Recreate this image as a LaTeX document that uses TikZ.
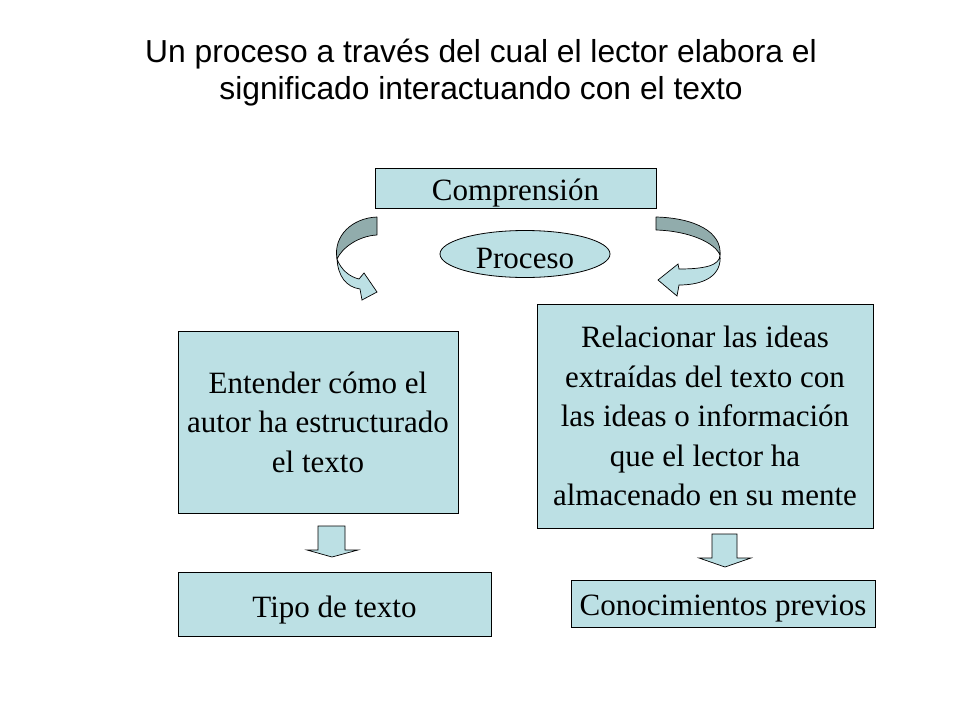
\documentclass[tikz,border=0pt]{standalone}
\usepackage{fontspec}
\setmainfont{Liberation Serif}
\newfontfamily\titlefont{Liberation Sans}
\usetikzlibrary{shapes.geometric}
\definecolor{boxblue}{RGB}{188,224,228}
\definecolor{ribbondark}{RGB}{145,172,172}
\tikzset{
  box/.style={draw=black, line width=0.8pt, fill=boxblue, inner sep=0pt, align=center,
    font=\fontsize{31}{39.5}\selectfont},
  blockarrow/.style={draw=black, line width=0.7pt, fill=boxblue, line join=miter},
  ribbonback/.style={draw=black, line width=0.7pt, fill=ribbondark, line join=round},
  ribbonfront/.style={draw=black, line width=0.7pt, fill=boxblue, line join=miter},
}
\begin{document}
\begin{tikzpicture}[x=1pt,y=-1pt]
\useasboundingbox (0,0) rectangle (960,720);
% title
\node[font=\titlefont\fontsize{31.8}{37}\selectfont, align=center, anchor=base] (title) at (481,99)
  {Un proceso a través del cual el lector elabora el\\significado interactuando con el texto};
% boxes
\node[box, minimum width=281pt, minimum height=40pt, text height=24pt, text depth=0pt] (comp) at (515.5,188) {Comprensión};
\node[box, ellipse, minimum width=170pt, minimum height=47pt, text height=28pt, text depth=0pt] (proc) at (525,254) {Proceso};
\node[box, minimum width=280pt, minimum height=182pt] (ent) at (318,422)
  {Entender cómo el\\autor ha estructurado\\el texto};
\node[box, minimum width=336pt, minimum height=224pt] (rel) at (705,416)
  {Relacionar las ideas\\extraídas del texto con\\las ideas o información\\que el lector ha\\almacenado en su mente};
\node[box, minimum width=313pt, minimum height=64pt, text height=26pt, text depth=0pt] (tipo) at (334.5,604) {Tipo de texto};
\node[box, minimum width=304pt, minimum height=47pt, text height=23pt, text depth=0pt] (cono) at (723,603.5) {Conocimientos previos};
% left curved ribbon arrow
\draw[ribbonback] (377,217) .. controls (352,218) and (333,236) .. (337,259)
  .. controls (342,248) and (358,236) .. (377,235) -- cycle;
\draw[ribbonfront] (337,259) .. controls (338,276) and (346,287) .. (360,289)
  -- (362,300) -- (377,292) -- (364,273) -- (359,279)
  .. controls (350,277) and (341,270) .. (337,259) -- cycle;
% right curved ribbon arrow
\draw[ribbonback] (656,217) .. controls (695,218) and (722,232) .. (720,255)
  .. controls (715,243) and (690,231) .. (656,230) -- cycle;
\draw[ribbonfront] (720,255) .. controls (720,266) and (703,269) .. (679,269)
  -- (678,264) -- (658,280) -- (677,296) -- (679,285)
  .. controls (705,285) and (722,275) .. (720,255) -- cycle;
% down block arrows
\draw[blockarrow] (318,526) -- (345,526) -- (345,550) -- (358,550) -- (332,557)
  -- (307,550) -- (318,550) -- cycle;
\draw[blockarrow] (712,534) -- (737,534) -- (737,558) -- (751,558) -- (725,567)
  -- (699,558) -- (712,558) -- cycle;
\end{tikzpicture}
\end{document}
